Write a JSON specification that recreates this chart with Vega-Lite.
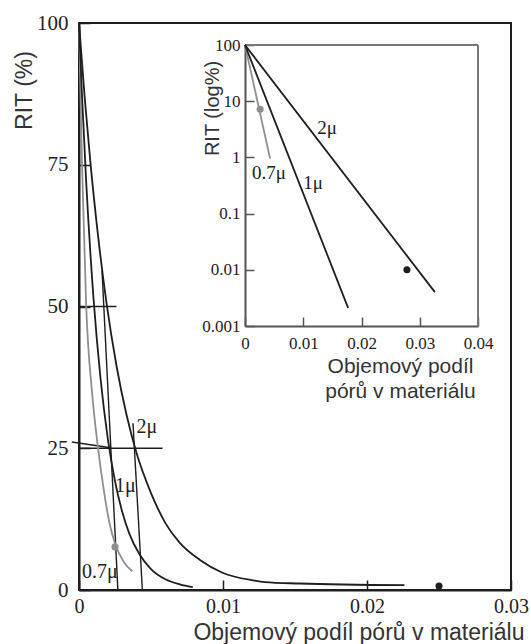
{
  "$schema": "https://vega.github.io/schema/vega-lite/v6.json",
  "width": 432,
  "height": 567,
  "autosize": {"type": "none"},
  "padding": {"left": 79, "top": 23, "right": 20, "bottom": 54},
  "background": "white",
  "view": {"stroke": "#1e1e1e", "strokeWidth": 2},
  "config": {
    "axis": {"grid": false, "domainColor": "#1e1e1e", "tickColor": "#1e1e1e", "labelColor": "#222", "titleColor": "#333", "titleFontWeight": "normal"}
  },
  "datasets": {
    "main": [
      {"kind": "curve", "series": "0.7μ", "x": 0, "y": 100},
      {"kind": "curve", "series": "0.7μ", "x": 0.0002, "y": 76},
      {"kind": "curve", "series": "0.7μ", "x": 0.0005, "y": 50},
      {"kind": "curve", "series": "0.7μ", "x": 0.0009, "y": 35},
      {"kind": "curve", "series": "0.7μ", "x": 0.0013, "y": 25.5},
      {"kind": "curve", "series": "0.7μ", "x": 0.0017, "y": 18},
      {"kind": "curve", "series": "0.7μ", "x": 0.0021, "y": 12},
      {"kind": "curve", "series": "0.7μ", "x": 0.0025, "y": 8.2},
      {"kind": "curve", "series": "0.7μ", "x": 0.0031, "y": 5},
      {"kind": "curve", "series": "0.7μ", "x": 0.0037, "y": 3.3},
      {"kind": "curve", "series": "1μ", "x": 0, "y": 100},
      {"kind": "curve", "series": "1μ", "x": 0.0002, "y": 87.6},
      {"kind": "curve", "series": "1μ", "x": 0.0005, "y": 71.9},
      {"kind": "curve", "series": "1μ", "x": 0.001, "y": 51.7},
      {"kind": "curve", "series": "1μ", "x": 0.0015, "y": 37.2},
      {"kind": "curve", "series": "1μ", "x": 0.002, "y": 26.7},
      {"kind": "curve", "series": "1μ", "x": 0.0025, "y": 19.2},
      {"kind": "curve", "series": "1μ", "x": 0.003, "y": 13.8},
      {"kind": "curve", "series": "1μ", "x": 0.0035, "y": 9.9},
      {"kind": "curve", "series": "1μ", "x": 0.0042, "y": 6.3},
      {"kind": "curve", "series": "1μ", "x": 0.005, "y": 3.7},
      {"kind": "curve", "series": "1μ", "x": 0.006, "y": 1.9},
      {"kind": "curve", "series": "1μ", "x": 0.007, "y": 1.0},
      {"kind": "curve", "series": "1μ", "x": 0.0079, "y": 0.5},
      {"kind": "curve", "series": "2μ", "x": 0, "y": 100},
      {"kind": "curve", "series": "2μ", "x": 0.0004, "y": 86.7},
      {"kind": "curve", "series": "2μ", "x": 0.0008, "y": 75.2},
      {"kind": "curve", "series": "2μ", "x": 0.0013, "y": 63},
      {"kind": "curve", "series": "2μ", "x": 0.0019, "y": 50.8},
      {"kind": "curve", "series": "2μ", "x": 0.0026, "y": 39.6},
      {"kind": "curve", "series": "2μ", "x": 0.0033, "y": 30.9},
      {"kind": "curve", "series": "2μ", "x": 0.004, "y": 24.1},
      {"kind": "curve", "series": "2μ", "x": 0.005, "y": 17.1},
      {"kind": "curve", "series": "2μ", "x": 0.006, "y": 11.8},
      {"kind": "curve", "series": "2μ", "x": 0.007, "y": 8.3},
      {"kind": "curve", "series": "2μ", "x": 0.0084, "y": 5.3},
      {"kind": "curve", "series": "2μ", "x": 0.01, "y": 3.0},
      {"kind": "curve", "series": "2μ", "x": 0.0121, "y": 1.7},
      {"kind": "curve", "series": "2μ", "x": 0.0129, "y": 1.4},
      {"kind": "curve", "series": "2μ", "x": 0.0153, "y": 1.15},
      {"kind": "curve", "series": "2μ", "x": 0.0226, "y": 0.85},
      {"kind": "guide", "series": "L1", "x": 0.0016, "y": 56.3},
      {"kind": "guide", "series": "L1", "x": 0.0027, "y": 0},
      {"kind": "guide", "series": "L2", "x": 0.00375, "y": 29.4},
      {"kind": "guide", "series": "L2", "x": 0.0044, "y": 0},
      {"kind": "guide", "series": "H50", "x": 0, "y": 50},
      {"kind": "guide", "series": "H50", "x": 0.0026, "y": 50},
      {"kind": "guide", "series": "H25", "x": 0, "y": 25},
      {"kind": "guide", "series": "H25", "x": 0.0058, "y": 25},
      {"kind": "guide", "series": "A25", "x": -0.0005, "y": 26.1},
      {"kind": "guide", "series": "A25", "x": 0.0022, "y": 25.1},
      {"kind": "dot", "series": "0.7μ", "x": 0.0025, "y": 7.6},
      {"kind": "dot", "series": "k", "x": 0.025, "y": 0.7},
      {"kind": "label", "series": "k", "label": "2μ", "x": 0.004, "y": 28.7},
      {"kind": "label", "series": "k", "label": "1μ", "x": 0.0025, "y": 18.3},
      {"kind": "label", "series": "k", "label": "0.7μ", "x": 0.0002, "y": 3.2}
    ],
    "inset": [
      {"kind": "curve", "series": "0.7μ", "x": 0, "y": 100},
      {"kind": "curve", "series": "0.7μ", "x": 0.0043, "y": 0.96},
      {"kind": "curve", "series": "1μ", "x": 0, "y": 100},
      {"kind": "curve", "series": "1μ", "x": 0.0177, "y": 0.0021},
      {"kind": "curve", "series": "2μ", "x": 0, "y": 100},
      {"kind": "curve", "series": "2μ", "x": 0.0326, "y": 0.004},
      {"kind": "dot", "series": "0.7μ", "x": 0.0026, "y": 7.2},
      {"kind": "dot", "series": "k", "x": 0.0278, "y": 0.01},
      {"kind": "label", "series": "k", "label": "2μ", "x": 0.0124, "y": 3.3},
      {"kind": "label", "series": "k", "label": "1μ", "x": 0.01, "y": 0.355},
      {"kind": "label", "series": "k", "label": "0.7μ", "x": 0.0012, "y": 0.52},
      {"kind": "frame", "series": "k", "x": 0, "x2": 0.04, "y": 100, "y2": 100},
      {"kind": "frame", "series": "k", "x": 0.04, "x2": 0.04, "y": 0.001, "y2": 100}
    ]
  },
  "layer": [
    {
      "data": {"name": "main"},
      "encoding": {
        "x": {
          "field": "x", "type": "quantitative",
          "scale": {"domain": [0, 0.03], "nice": false, "zero": false},
          "axis": {
            "values": [0, 0.01, 0.02, 0.03], "format": "~g", "labelFlush": false,
            "tickSize": -10, "tickWidth": 1.5, "domainWidth": 2,
            "labelFont": "Liberation Serif", "labelFontSize": 20, "labelPadding": 16,
            "title": "Objemový podíl pórů v materiálu",
            "titleFont": "Liberation Sans", "titleFontSize": 23,
            "titleAlign": "right", "titleBaseline": "middle", "titleX": 445, "titleY": 42
          }
        },
        "y": {
          "field": "y", "type": "quantitative",
          "scale": {"domain": [0, 100], "nice": false, "zero": false},
          "axis": {
            "values": [0, 25, 50, 75, 100], "labelFlush": false,
            "tickSize": -11, "tickWidth": 1.5, "domainWidth": 2,
            "labelFont": "Liberation Serif", "labelFontSize": 21, "labelPadding": 22,
            "title": "RIT (%)",
            "titleFont": "Liberation Sans", "titleFontSize": 23,
            "titleAngle": -90, "titleAlign": "center", "titleBaseline": "middle", "titleX": -55, "titleY": 67
          }
        }
      },
      "layer": [
        {
          "transform": [{"filter": "datum.kind === 'guide'"}],
          "mark": {"type": "line", "strokeWidth": 1.4, "color": "#1e1e1e", "clip": false},
          "encoding": {"detail": {"field": "series", "type": "nominal"}}
        },
        {
          "transform": [{"filter": "datum.kind === 'curve'"}],
          "mark": {"type": "line", "interpolate": "monotone", "strokeWidth": 1.8},
          "encoding": {
            "color": {"field": "series", "type": "nominal", "scale": {"domain": ["0.7μ", "1μ", "2μ", "k"], "range": ["#8f8f8f", "#1e1e1e", "#1e1e1e", "#1e1e1e"]}, "legend": null}
          }
        },
        {
          "transform": [{"filter": "datum.kind === 'dot'"}],
          "mark": {"type": "point", "filled": true, "size": 50, "opacity": 1},
          "encoding": {
            "color": {"field": "series", "type": "nominal", "legend": null}
          }
        },
        {
          "transform": [{"filter": "datum.kind === 'label'"}],
          "mark": {"type": "text", "align": "left", "baseline": "middle", "font": "Liberation Serif", "fontSize": 20, "color": "#222"},
          "encoding": {"text": {"field": "label"}}
        }
      ]
    },
    {
      "data": {"name": "inset"},
      "encoding": {
        "x": {
          "field": "x", "type": "quantitative",
          "scale": {"domain": [0, 0.04], "range": [166, 399], "nice": false, "zero": false},
          "axis": {
            "orient": "bottom", "offset": -264,
            "values": [0, 0.01, 0.02, 0.03, 0.04], "format": "~g", "labelFlush": false,
            "tickSize": -9, "tickWidth": 1.5, "domainWidth": 2, "domainColor": "#555", "tickColor": "#555",
            "labelFont": "Liberation Serif", "labelFontSize": 17, "labelPadding": 18,
            "title": ["Objemový podíl", "pórů v materiálu"],
            "titleFont": "Liberation Sans", "titleFontSize": 21, "titleLineHeight": 25,
            "titleAlign": "center", "titleBaseline": "top", "titleX": 321, "titleY": 29
          }
        },
        "y": {
          "field": "y", "type": "quantitative",
          "scale": {"type": "log", "domain": [0.001, 100], "range": [303, 22], "nice": false},
          "axis": {
            "orient": "left", "offset": -166,
            "values": [0.001, 0.01, 0.1, 1, 10, 100], "format": "~g", "labelFlush": false,
            "tickSize": -9, "tickWidth": 1.5, "domainWidth": 2, "domainColor": "#555", "tickColor": "#555",
            "labelFont": "Liberation Serif", "labelFontSize": 17, "labelPadding": 14,
            "title": "RIT (log%)",
            "titleFont": "Liberation Sans", "titleFontSize": 20,
            "titleAngle": -90, "titleAlign": "center", "titleBaseline": "middle", "titleX": -33, "titleY": 85
          }
        }
      },
      "layer": [
        {
          "transform": [{"filter": "datum.kind === 'frame'"}],
          "mark": {"type": "rule", "strokeWidth": 2, "color": "#777"},
          "encoding": {"x2": {"field": "x2"}, "y2": {"field": "y2"}}
        },
        {
          "transform": [{"filter": "datum.kind === 'curve'"}],
          "mark": {"type": "line", "strokeWidth": 1.8},
          "encoding": {
            "color": {"field": "series", "type": "nominal", "legend": null}
          }
        },
        {
          "transform": [{"filter": "datum.kind === 'dot'"}],
          "mark": {"type": "point", "filled": true, "size": 50, "opacity": 1},
          "encoding": {
            "color": {"field": "series", "type": "nominal", "legend": null}
          }
        },
        {
          "transform": [{"filter": "datum.kind === 'label'"}],
          "mark": {"type": "text", "align": "left", "baseline": "middle", "font": "Liberation Serif", "fontSize": 19, "color": "#222"},
          "encoding": {"text": {"field": "label"}}
        }
      ]
    }
  ],
  "resolve": {
    "scale": {"x": "independent", "y": "independent"},
    "axis": {"x": "independent", "y": "independent"}
  }
}
